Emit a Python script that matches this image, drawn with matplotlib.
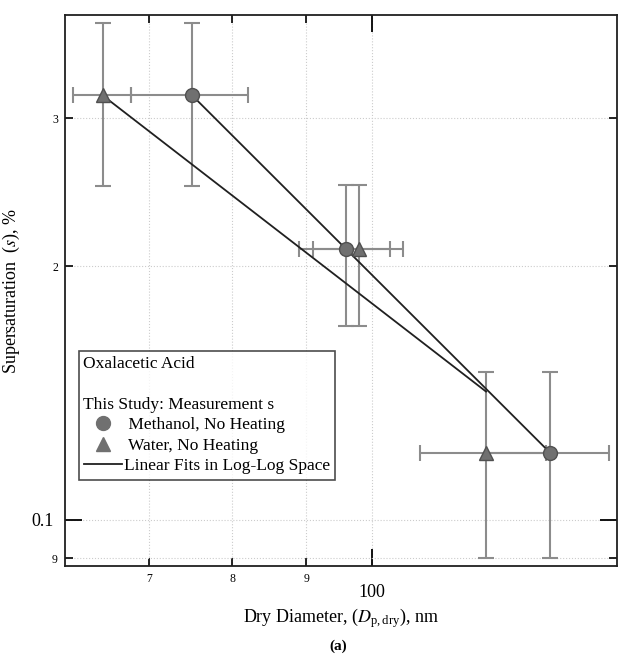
import matplotlib.pyplot as plt
from matplotlib.ticker import FixedLocator, NullFormatter
from matplotlib.lines import Line2D

plt.rcParams['font.family'] = ['Liberation Serif', 'DejaVu Serif']
plt.rcParams['mathtext.fontset'] = 'stix'

# methanol-atomized particles, no heating
meth_d = [75, 96, 133]
meth_derr = [7, 7, 13]
meth_s = [0.3195, 0.2097, 0.120]
meth_serr = [0.07, 0.04, 0.03]

# water-atomized particles, no heating
wat_d = [65, 98, 120]
wat_derr = [3, 7, 12]
wat_s = [0.3195, 0.2097, 0.120]
wat_serr = [0.07, 0.04, 0.03]

# fitted lines (log-log), end points
meth_fit_d = [75, 133]
meth_fit_s = [0.3195, 0.120]
wat_fit_d = [65, 120]
wat_fit_s = [0.3195, 0.142]

fig = plt.figure(figsize=(6.18, 6.55), dpi=100)
ax = fig.add_axes([0.105, 0.136, 0.893, 0.841])
ax.set_xscale('log')
ax.set_yscale('log')
ax.set_xlim(61.2, 147.9)
ax.set_ylim(0.0881, 0.398)

ecol = '#8c8c8c'
mcol = '#707070'
ax.errorbar(meth_d, meth_s, xerr=meth_derr, yerr=meth_serr, fmt='none',
            ecolor=ecol, elinewidth=1.5, capsize=6, capthick=1.5, zorder=2)
ax.errorbar(wat_d, wat_s, xerr=wat_derr, yerr=wat_serr, fmt='none',
            ecolor=ecol, elinewidth=1.5, capsize=6, capthick=1.5, zorder=2)
ax.plot(meth_fit_d, meth_fit_s, color='#202020', lw=1.3, zorder=3)
ax.plot(wat_fit_d, wat_fit_s, color='#202020', lw=1.3, zorder=3)
ax.plot(meth_d, meth_s, 'o', ms=10, mfc=mcol, mec='#505050', mew=1, zorder=4)
ax.plot(wat_d, wat_s, '^', ms=10, mfc=mcol, mec='#505050', mew=1, zorder=4)

# ticks: major at 100 nm / 0.1 %, minor labelled with leading digit
ax.xaxis.set_major_locator(FixedLocator([100]))
ax.set_xticklabels(['100'])
ax.xaxis.set_minor_formatter(NullFormatter())
ax.set_xticks([70, 80, 90], ['7', '8', '9'], minor=True)
ax.yaxis.set_major_locator(FixedLocator([0.1]))
ax.set_yticklabels(['0.1'])
ax.set_yticks([0.09, 0.2, 0.3], ['9', '2', '3'], minor=True)

ax.tick_params(which='major', direction='in', length=12, width=1.3,
               labelsize=13, top=True, right=True, pad=8)
ax.tick_params(which='minor', direction='in', length=6, width=1.2,
               labelsize=8.5, top=True, right=True, pad=5)
ax.tick_params(axis='x', which='major', pad=13)
ax.grid(which='both', color='#cccccc', ls=':', lw=0.8)
for sp in ax.spines.values():
    sp.set_linewidth(1.3)
    sp.set_color('#202020')

ax.set_ylabel('Supersaturation  ($s$), %', fontsize=13)
ax.yaxis.set_label_coords(-0.078, 0.5)
ax.set_xlabel(r'Dry Diameter, ($D_{\mathregular{p,dry}}$), nm', fontsize=13)
ax.xaxis.set_label_coords(0.5, -0.074)
fig.text(0.548, 0.014, '(a)', fontsize=11, fontweight='bold',
         ha='center', va='center')

handles = [
    Line2D([], [], ls='none', label='Oxalacetic Acid'),
    Line2D([], [], ls='none', label=' '),
    Line2D([], [], ls='none', label='This Study: Measurement s'),
    Line2D([], [], ls='none', marker='o', ms=10, mfc=mcol, mec=mcol,
           label=' Methanol, No Heating'),
    Line2D([], [], ls='none', marker='^', ms=10, mfc=mcol, mec=mcol,
           label=' Water, No Heating'),
    Line2D([], [], color='#202020', lw=1.3, label='Linear Fits in Log-Log Space'),
]
leg = ax.legend(handles=handles, loc='upper left', bbox_to_anchor=(0.025, 0.391),
                fontsize=12.5, frameon=True, fancybox=False, edgecolor='#202020',
                handlelength=2.2, handletextpad=0.1, labelspacing=0.25,
                borderpad=0.3, borderaxespad=0)
leg.get_frame().set_linewidth(1.2)
for i in (0, 1, 2):
    leg.legend_handles[i].set_visible(False)
    leg.get_texts()[i].set_position((-41, 0))

fig.savefig('out.png', dpi=100)
